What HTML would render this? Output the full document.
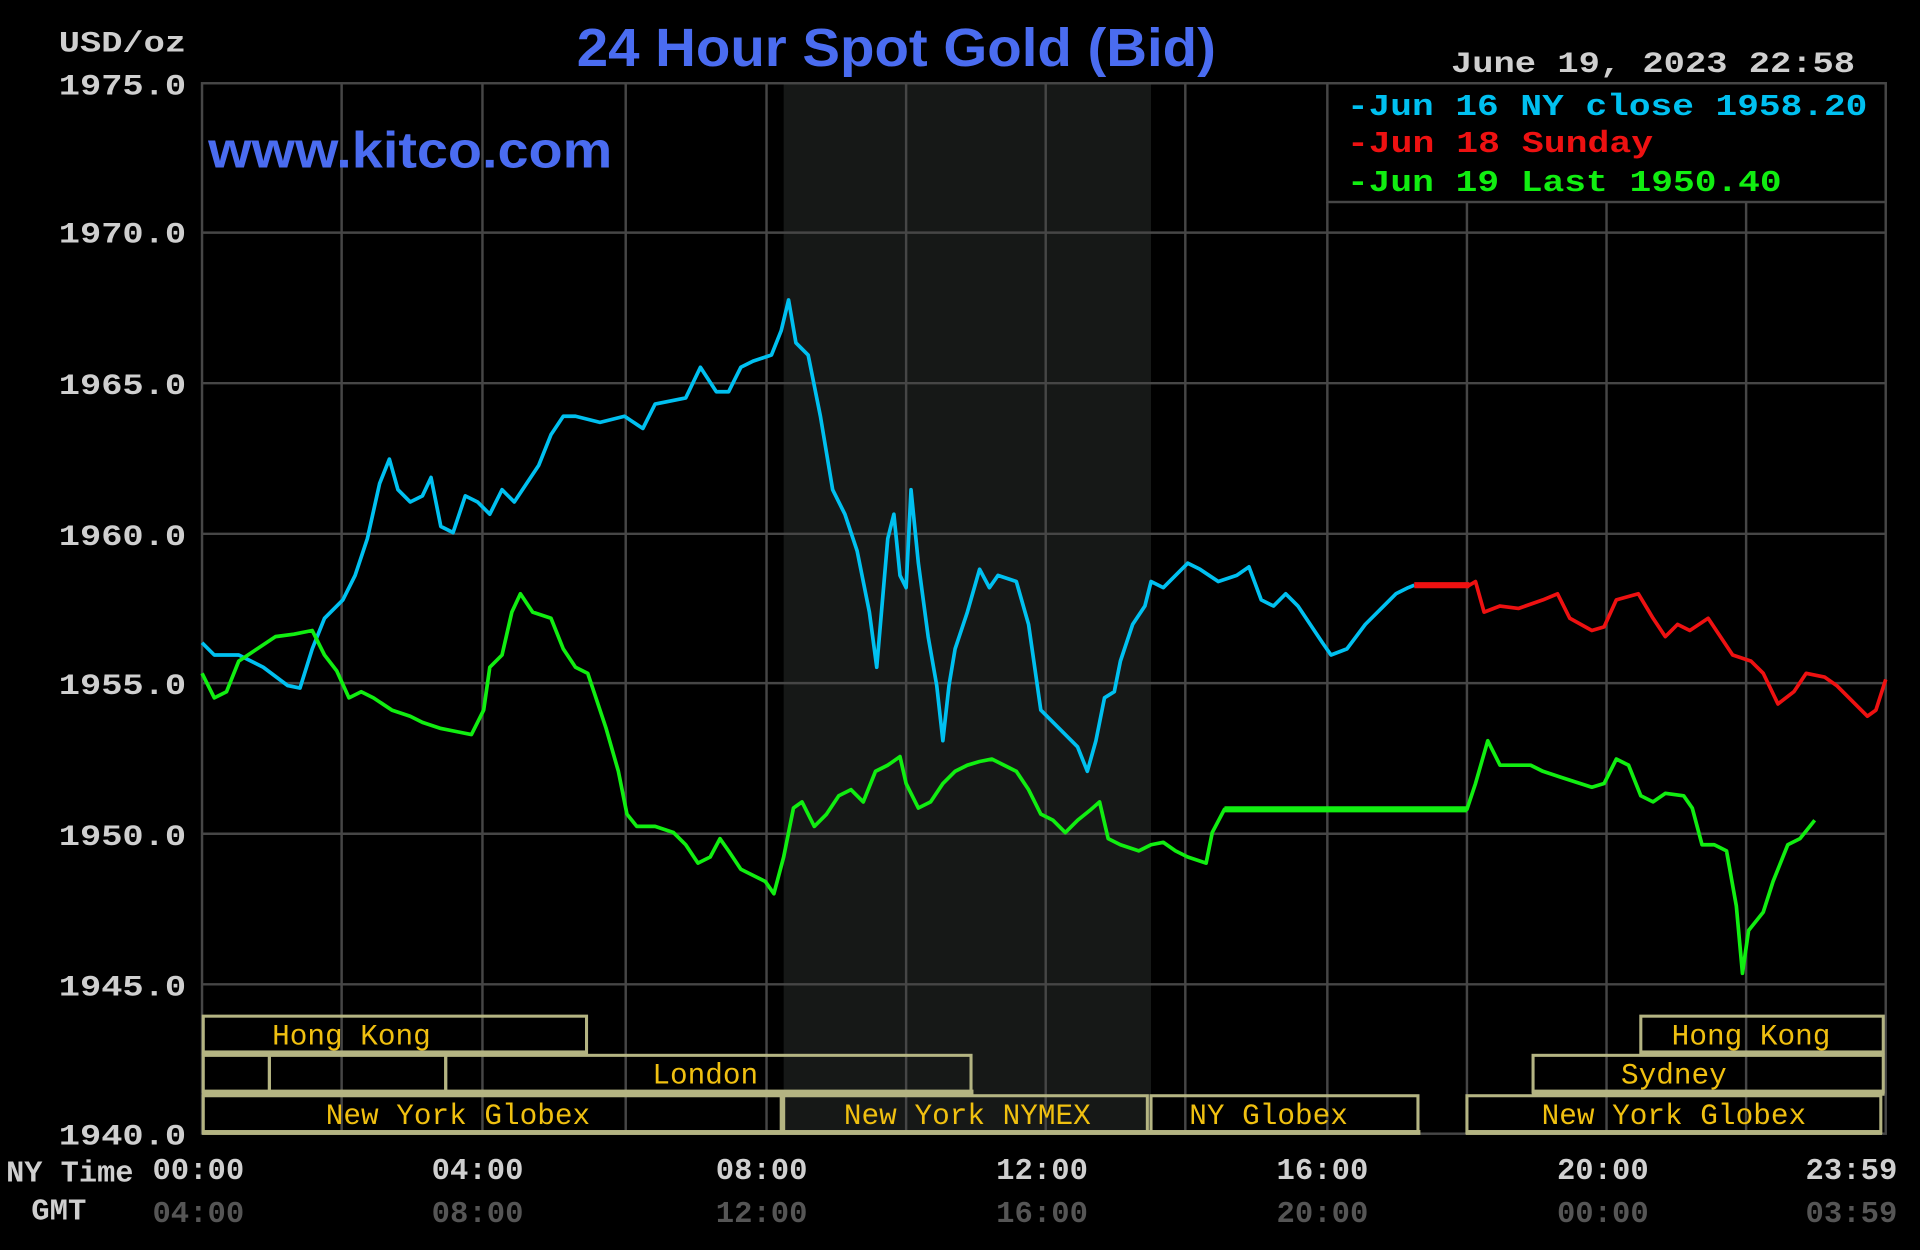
<!DOCTYPE html>
<html><head><style>html,body{margin:0;padding:0;background:#000;}svg{display:block}</style></head>
<body>
<svg width="1920" height="1250" viewBox="0 0 1568 1021" preserveAspectRatio="none" xmlns="http://www.w3.org/2000/svg">
<rect width="1568" height="1021" fill="#000"/>
<rect x="640" y="68" width="300" height="858" fill="#161817"/>
<g stroke="#464646" stroke-width="2" fill="none">
<line x1="165" y1="190" x2="1540" y2="190"/><line x1="165" y1="313" x2="1540" y2="313"/>
<line x1="165" y1="436" x2="1540" y2="436"/><line x1="165" y1="558" x2="1540" y2="558"/>
<line x1="165" y1="681" x2="1540" y2="681"/><line x1="165" y1="804" x2="1540" y2="804"/>
<line x1="279" y1="68" x2="279" y2="926"/><line x1="394" y1="68" x2="394" y2="926"/>
<line x1="511" y1="68" x2="511" y2="926"/><line x1="626" y1="68" x2="626" y2="926"/>
<line x1="740" y1="68" x2="740" y2="926"/><line x1="854" y1="68" x2="854" y2="926"/>
<line x1="968" y1="68" x2="968" y2="926"/><line x1="1084" y1="165" x2="1084" y2="926"/>
<line x1="1198" y1="165" x2="1198" y2="926"/><line x1="1312" y1="165" x2="1312" y2="926"/>
<line x1="1426" y1="165" x2="1426" y2="926"/>
<rect x="165" y="68" width="1375" height="858"/>
<rect x="1084" y="68" width="456" height="97"/>
</g>
<g font-family="Liberation Mono, monospace" font-weight="bold" font-size="24" fill="#cfcfcf" text-anchor="end">
<text x="152" y="42" textLength="104" lengthAdjust="spacingAndGlyphs">USD/oz</text>
<text x="152" y="77" textLength="104" lengthAdjust="spacingAndGlyphs">1975.0</text>
<text x="152" y="198" textLength="104" lengthAdjust="spacingAndGlyphs">1970.0</text>
<text x="152" y="322" textLength="104" lengthAdjust="spacingAndGlyphs">1965.0</text>
<text x="152" y="445" textLength="104" lengthAdjust="spacingAndGlyphs">1960.0</text>
<text x="152" y="567" textLength="104" lengthAdjust="spacingAndGlyphs">1955.0</text>
<text x="152" y="690" textLength="104" lengthAdjust="spacingAndGlyphs">1950.0</text>
<text x="152" y="813" textLength="104" lengthAdjust="spacingAndGlyphs">1945.0</text>
<text x="152" y="935" textLength="104" lengthAdjust="spacingAndGlyphs">1940.0</text>
</g>
<text x="732" y="54" font-family="Liberation Sans, sans-serif" font-weight="bold" font-size="44" fill="#4a6cf0" text-anchor="middle" textLength="522" lengthAdjust="spacingAndGlyphs">24 Hour Spot Gold (Bid)</text>
<text x="170" y="137" font-family="Liberation Sans, sans-serif" font-weight="bold" font-size="42" fill="#4a6cf0" textLength="330" lengthAdjust="spacingAndGlyphs">www.kitco.com</text>
<text x="1185" y="59" font-family="Liberation Mono, monospace" font-weight="bold" font-size="24" fill="#cfcfcf" textLength="330" lengthAdjust="spacingAndGlyphs">June 19, 2023 22:58</text>
<g font-family="Liberation Mono, monospace" font-weight="bold" font-size="25">
<text x="1100" y="94" fill="#00c0f0" textLength="425" lengthAdjust="spacingAndGlyphs">-Jun 16 NY close 1958.20</text>
<text x="1100" y="124" fill="#ee1111" textLength="250" lengthAdjust="spacingAndGlyphs">-Jun 18 Sunday</text>
<text x="1100" y="156" fill="#11ee11" textLength="355" lengthAdjust="spacingAndGlyphs">-Jun 19 Last 1950.40</text>
</g>
<g stroke="#b4b482" stroke-width="2.5" fill="none">
<rect x="166" y="830" width="313" height="30"/><rect x="1340" y="830" width="198" height="30"/>
<rect x="166" y="862" width="54" height="30"/><rect x="220" y="862" width="144" height="30"/>
<rect x="364" y="862" width="429" height="30"/><rect x="1252" y="862" width="286" height="30"/>
<rect x="166" y="895" width="472" height="30"/><rect x="640" y="895" width="297" height="30"/>
<rect x="940" y="895" width="218" height="30"/><rect x="1198" y="895" width="338" height="30"/>
</g>
<g fill="#b4b482">
<rect x="165" y="858" width="315" height="5"/><rect x="1339" y="858" width="200" height="5"/>
<rect x="165" y="890" width="630" height="5"/><rect x="1251" y="890" width="288" height="5"/>
<rect x="165" y="923" width="995" height="4"/><rect x="1197" y="923" width="340" height="4"/>
</g>
<g font-family="Liberation Mono, monospace" font-size="24" fill="#f0c010" text-anchor="middle">
<text x="287" y="853">Hong Kong</text><text x="1430" y="853">Hong Kong</text>
<text x="576" y="885">London</text><text x="1367" y="885">Sydney</text>
<text x="374" y="918">New York Globex</text><text x="790" y="918">New York NYMEX</text>
<text x="1036" y="918">NY Globex</text><text x="1367" y="918">New York Globex</text>
</g>
<g font-family="Liberation Mono, monospace" font-weight="bold" font-size="25" text-anchor="middle">
<text x="57" y="965" fill="#cfcfcf" textLength="104" lengthAdjust="spacingAndGlyphs">NY Time</text>
<g fill="#cfcfcf"><text x="162" y="963">00:00</text><text x="390" y="963">04:00</text><text x="622" y="963">08:00</text><text x="851" y="963">12:00</text><text x="1080" y="963">16:00</text><text x="1309" y="963">20:00</text><text x="1512" y="963">23:59</text></g>
<text x="48" y="996" fill="#cfcfcf">GMT</text>
<g fill="#555"><text x="162" y="998">04:00</text><text x="390" y="998">08:00</text><text x="622" y="998">12:00</text><text x="851" y="998">16:00</text><text x="1080" y="998">20:00</text><text x="1309" y="998">00:00</text><text x="1512" y="998">03:59</text></g>
</g>
<g fill="none" stroke-width="3" stroke-linejoin="round">
<polyline stroke="#00c0f0" points="165,525 175,535 195,535 215,545 235,560 245,562 255,530 265,505 280,490 290,470 300,440 310,395 318,375 325,400 335,410 345,405 352,390 360,430 370,435 380,405 390,410 400,420 410,400 420,410 430,395 440,380 450,355 460,340 470,340 490,345 510,340 525,350 535,330 560,325 572,300 585,320 595,320 605,300 615,295 630,290 638,270 644,245 650,280 660,290 670,340 680,400 690,420 700,450 710,500 716,545 725,440 730,420 735,470 740,480 744,400 750,460 758,520 765,560 770,605 775,560 780,530 790,500 800,465 808,480 815,470 830,475 840,510 850,580 860,590 870,600 880,610 888,630 895,605 902,570 910,565 915,540 925,510 935,495 940,475 950,480 960,470 970,460 980,465 995,475 1010,470 1020,463 1030,490 1040,495 1050,485 1060,495 1070,510 1080,525 1087,535 1100,530 1115,510 1130,495 1140,485 1150,480 1155,478"/>
<polyline stroke="#ee1111" points="1155,478 1200,478 1205,475 1212,500 1225,495 1240,497 1260,490 1272,485 1282,505 1300,515 1310,512 1320,490 1338,485 1350,505 1360,520 1370,510 1380,515 1395,505 1405,520 1415,535 1430,540 1440,550 1452,575 1465,565 1475,550 1490,553 1500,560 1510,570 1525,585 1532,580 1540,555"/>
<polyline stroke="#11ee11" points="165,550 175,570 185,565 195,540 210,530 225,520 240,518 255,515 265,535 275,548 285,570 295,565 305,570 320,580 335,585 345,590 360,595 375,598 385,600 395,580 400,545 410,535 418,500 425,485 435,500 450,505 460,530 470,545 480,550 485,565 495,595 505,630 512,665 520,675 535,675 550,680 560,690 570,705 580,700 588,685 595,695 605,710 615,715 625,720 632,730 640,700 648,660 655,655 665,675 675,665 685,650 695,645 705,655 715,630 725,625 735,618 740,640 750,660 760,655 770,640 780,630 790,625 800,622 810,620 820,625 830,630 840,645 850,665 860,670 870,680 880,670 890,662 898,655 905,685 915,690 930,695 940,690 950,688 960,695 970,700 985,705 990,680 1000,661 1198,661 1205,640 1215,605 1225,625 1250,625 1260,630 1275,635 1300,643 1310,640 1320,620 1330,625 1340,650 1350,655 1360,648 1375,650 1382,660 1390,690 1400,690 1410,695 1418,740 1423,795 1428,760 1440,745 1448,720 1460,690 1470,685 1482,670"/>
<line x1="1000" y1="661" x2="1198" y2="661" stroke="#11ee11" stroke-width="5"/>
<line x1="1155" y1="478" x2="1200" y2="478" stroke="#ee1111" stroke-width="5"/>
</g>
</svg>
</body></html>
